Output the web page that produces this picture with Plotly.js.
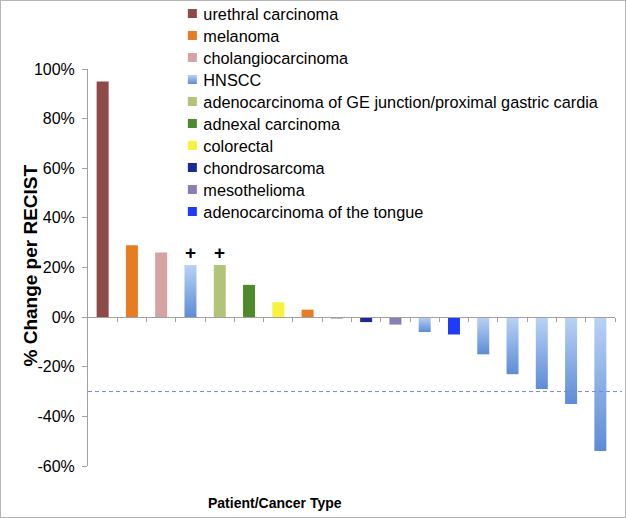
<!DOCTYPE html>
<html>
<head>
<meta charset="utf-8">
<script src="https://cdn.plot.ly/plotly-3.0.1.min.js"></script>
<style>
  html, body { margin: 0; padding: 0; background: #fff; }
  #chart { width: 624px; height: 516px; border: 1px solid #b5b5b5; }
</style>
</head>
<body>
<div id="chart"></div>
<script>
// ---- data ----
var patients = [1,2,3,4,5,6,7,8,9,10,11,12,13,14,15,16,17,18];
var changePct = [95, 29, 26, 21, 21, 13, 6, 3, -0.5, -2, -3, -6, -7, -15, -23, -29, -35, -54];
var cancerType = ['urethral carcinoma','melanoma','cholangiocarcinoma','HNSCC',
  'adenocarcinoma of GE junction/proximal gastric cardia','adnexal carcinoma','colorectal',
  'melanoma','unspecified','chondrosarcoma','mesothelioma','HNSCC','adenocarcinoma of the tongue',
  'HNSCC','HNSCC','HNSCC','HNSCC','HNSCC'];
var plusMarked = [4, 5];
var legendOrder = ['urethral carcinoma','melanoma','cholangiocarcinoma','HNSCC',
  'adenocarcinoma of GE junction/proximal gastric cardia','adnexal carcinoma','colorectal',
  'chondrosarcoma','mesothelioma','adenocarcinoma of the tongue'];
var typeColors = {
  'urethral carcinoma': '#8e4a47',
  'melanoma': '#e57d22',
  'cholangiocarcinoma': '#d5a3a2',
  'HNSCC': '#8fb3ea',
  'adenocarcinoma of GE junction/proximal gastric cardia': '#b1c477',
  'adnexal carcinoma': '#4d8a2b',
  'colorectal': '#f7f23c',
  'chondrosarcoma': '#1b2a98',
  'mesothelioma': '#8a7cb4',
  'adenocarcinoma of the tongue': '#1e3cf8',
  'unspecified': '#555555'
};
var yTickVals = [-60,-40,-20,0,20,40,60,80,100];
var yTickText = ['-60%','-40%','-20%','0%','20%','40%','60%','80%','100%'];
var thresholdPct = -30;

// ---- build traces ----
var FONT = 'Liberation Sans, Arial, Helvetica, sans-serif';
var traces = [];
var allTypes = legendOrder.concat(['unspecified']);
allTypes.forEach(function (t) {
  var xs = [], ys = [];
  patients.forEach(function (p, i) {
    if (cancerType[i] === t) { xs.push(p); ys.push(changePct[i]); }
  });
  traces.push({
    type: 'bar', name: t, x: xs, y: ys, width: 0.41,
    marker: { color: typeColors[t], line: { width: 0 } },
    showlegend: t !== 'unspecified',
    hoverinfo: 'x+y+name'
  });
});

var boundaries = patients.map(function (p) { return p + 0.5; });

var annotations = plusMarked.map(function (p) {
  return { x: p, y: changePct[p - 1], xref: 'x', yref: 'y', text: '<b>+</b>',
    showarrow: false, yanchor: 'bottom', yshift: 0,
    font: { family: FONT, size: 19, color: '#000' } };
});
annotations.push({ xref: 'paper', yref: 'paper', x: 0.355, y: 0, yshift: -37,
  text: '<b>Patient/Cancer Type</b>', showarrow: false, yanchor: 'middle', xanchor: 'center',
  font: { family: FONT, size: 14, color: '#000' } });
annotations.push({ xref: 'paper', yref: 'paper', x: 0, xshift: -58, y: 0.5, yshift: 2,
  text: '<b>% Change per RECIST</b>', showarrow: false, textangle: -90,
  xanchor: 'center', yanchor: 'middle',
  font: { family: FONT, size: 19, color: '#000' } });

var layout = {
  width: 624, height: 516,
  margin: { l: 87, r: 10, t: 68, b: 51, autoexpand: false },
  paper_bgcolor: '#fff', plot_bgcolor: '#fff',
  barmode: 'overlay',
  font: { family: FONT, color: '#000' },
  xaxis: {
    range: [0.5, 18.5], showgrid: false, zeroline: false,
    anchor: 'free', position: 0.375,
    showline: true, linecolor: '#a0a0a0', linewidth: 1,
    ticks: 'outside', ticklen: 4, tickcolor: '#a0a0a0', tickwidth: 1,
    tickmode: 'array', tickvals: boundaries, showticklabels: false
  },
  yaxis: {
    range: [-60, 100], showgrid: false, zeroline: false,
    showline: true, linecolor: '#a0a0a0', linewidth: 1,
    ticks: 'outside', ticklen: 5, tickcolor: '#a0a0a0',
    tickmode: 'array', tickvals: yTickVals, ticktext: yTickText,
    tickfont: { family: FONT, size: 16, color: '#000' }, ticklabelstandoff: 4
  },
  legend: {
    x: 0.143, xanchor: 'left', y: 1.183, yanchor: 'top',
    bgcolor: 'rgba(0,0,0,0)', borderwidth: 0,
    font: { family: FONT, size: 16.3, color: '#000' },
    itemwidth: 30, tracegroupgap: 0
  },
  shapes: [{ type: 'line', xref: 'paper', yref: 'y', x0: 0, x1: 1.013,
    y0: thresholdPct, y1: thresholdPct,
    line: { color: '#7389d4', width: 1, dash: '4px,3px' } }],
  annotations: annotations
};

var gd = document.getElementById('chart');
Plotly.newPlot(gd, traces, layout, { displayModeBar: false, staticPlot: true }).then(function () {
  var svg = gd.querySelector('.main-svg');
  var ns = 'http://www.w3.org/2000/svg';
  var defs = document.createElementNS(ns, 'defs');
  var g = document.createElementNS(ns, 'linearGradient');
  g.setAttribute('id', 'hnsccGrad');
  g.setAttribute('x1', '0'); g.setAttribute('y1', '0');
  g.setAttribute('x2', '0'); g.setAttribute('y2', '1');
  [['0', '#b9d2f6'], ['1', '#5d8cd5']].forEach(function (s) {
    var st = document.createElementNS(ns, 'stop');
    st.setAttribute('offset', s[0]); st.setAttribute('stop-color', s[1]);
    g.appendChild(st);
  });
  defs.appendChild(g);
  svg.insertBefore(defs, svg.firstChild);
  var idx = legendOrder.indexOf('HNSCC');
  var barTraces = gd.querySelectorAll('.barlayer .trace');
  if (barTraces[idx]) {
    barTraces[idx].querySelectorAll('path').forEach(function (p) { p.style.fill = 'url(#hnsccGrad)'; });
  }
  // legend: 22px row pitch and small swatches close to the text, as in the reference
  var legTraces = gd.querySelectorAll('.legend .traces');
  var y0 = null;
  legTraces.forEach(function (lt, i) {
    var m = /translate\(\s*([-\d.]+)[ ,]+([-\d.]+)/.exec(lt.getAttribute('transform') || '');
    if (m) {
      if (y0 === null) y0 = parseFloat(m[2]);
      lt.setAttribute('transform', 'translate(' + m[1] + ',' + (y0 + i * 22) + ')');
    }
    lt.querySelectorAll('.legendpoints path').forEach(function (p) {
      p.setAttribute('d', 'M13.5,4.5H4.5V-4.5H13.5Z');
      if (i === idx) p.style.fill = 'url(#hnsccGrad)';
    });
  });
});
</script>
</body>
</html>
